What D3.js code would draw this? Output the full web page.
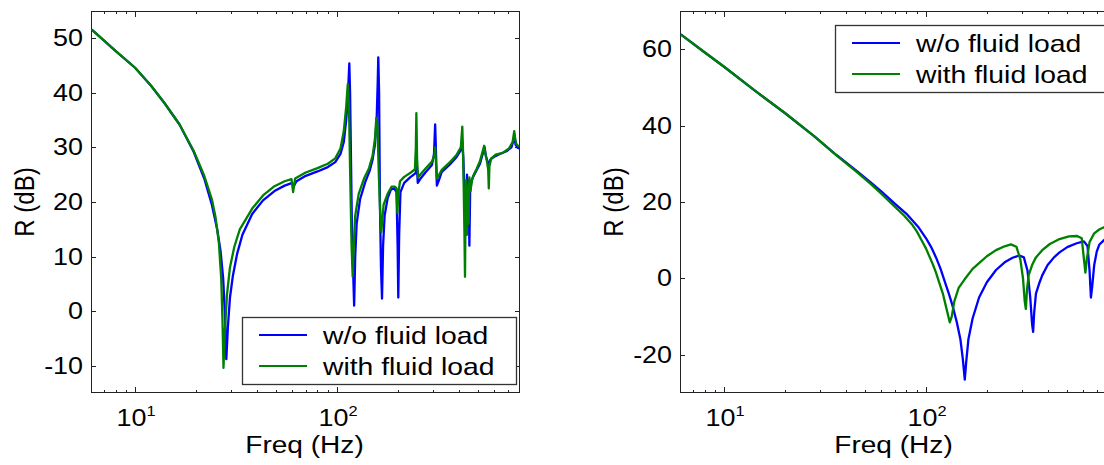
<!DOCTYPE html>
<html><head><meta charset="utf-8">
<script src="https://cdn.jsdelivr.net/npm/d3@7"></script>
<style>
body{margin:0;background:#fff}
svg text{font-family:"Liberation Sans",Arial,sans-serif;fill:#000}
</style>
</head><body>
<svg id="c" width="1104" height="465"></svg>
<script>
// ---------- DATA ----------
const seriesNames = ["w/o fluid load", "with fluid load"];
const seriesColors = ["#0000ff", "#008000"];
const xMajorTicks = [10, 100];
const xMinorTicks = [7, 8, 9, 20, 30, 40, 50, 60, 70, 80, 90, 200, 300, 400, 500, 600, 700, 800];
const yTicksLeft = [-10, 0, 10, 20, 30, 40, 50];
const yTicksRight = [-20, 0, 20, 40, 60];
const xLabel = "Freq (Hz)";
const yLabel = "R (dB)";

// Left panel, without fluid load (freq Hz, R dB)
const leftBlueFreq = [6.1,7,8,10,12,14,16.6,19.5,22,24,25.5,26.5,27.3,27.8,28.3,28.8,29.5,30.5,32,34,38,43,49,55,60,61,63,70,80,90,98,104,108,111,113,115,116,117,118.5,121.5,123,125,130,138,145,150,154,157,159,160,161.5,163,165,167,169,172,178,185,192,197,199.5,201,203,206,215,230,245,248,251,258,275,295,302,306,309,312,318,330,360,390,410,417,422,428,432,436,440,444,448,452,456,462,470,490,510,530,538,545,555,565,575,600,640,690,730,750,758,765,780,798];
const leftBlueVal  = [51.6,49.6,47.7,44.6,41.3,38.1,34.2,29.2,24.3,19.5,15,11,6,0,-8.8,-3,2.5,6.5,10.5,14,17.8,20.3,22,23,23.5,22.9,23.8,24.8,25.6,26.4,27.3,28.8,31,35,39,45.4,40,30,15,1,10,16,20.5,23.7,25.7,27.8,30.5,35,42,46.5,40,20,8,2.3,12,17.5,20.7,22.3,22.5,21.8,12,2.5,14,21.8,23.5,24.5,25.3,27,23.5,24.2,25.5,26.8,28.8,34.2,29,23,23.8,25.5,26.8,28.2,29.5,31,28,21,22,18,25,19,24,12,22,23.5,24.5,25.8,27,29.2,30,28.5,27.5,27,27.8,28.3,28.8,29.3,30,31.5,32.2,30.5,30,29.8];
// Left panel, with fluid load
const leftGreenFreq = [6.1,7,8,10,12,14,16.6,19.5,22,24,25,26,26.7,27.1,27.4,27.8,28.5,29.5,31,33,38,43,49,55,59.5,60.6,62,70,80,90,98,104,108,111,113,114.5,116,118,119.5,121,123,128,136,144,150,154,156.5,158.5,161,163.5,165.5,167,170,178,186,193,197,199,201,205,215,230,243,245.5,247,249,252,258,275,295,303,306,309,312,318,330,360,390,410,417,420,424,427,430,433,436,440,444,448,452,458,465,475,490,510,528,535,542,552,560,564,568,580,610,660,710,740,754,762,775,798];
const leftGreenVal  = [51.6,49.6,47.7,44.6,41.3,38.1,34.2,29.4,24.8,20.5,17.3,12.5,6,-2,-10.4,-4,3,8,11.8,15,18.8,21.2,22.9,23.8,24.2,21.8,24.3,25.4,26.2,27,28,29.8,33,37.5,41.6,38,26,12,6.3,12,17.5,21.5,24.3,26.2,28.5,31.5,35.4,34,25,18,14.5,16,19.5,21.5,22.8,22.8,22.5,18,21.5,23.8,24.6,25.3,26,30,36.3,28,24.5,25,26.2,27.4,28.5,30,27,24.3,24.8,25.9,27.2,28.6,30,33.8,30,22,15,6.3,20,24,14,23,16,24.5,22,24,25,26,27.5,29.5,30.3,29,27.5,26,22.5,26.5,28,28.7,29,29.8,31,33,31.5,30.5,30.1];

// Right panel, without fluid load
const rightBlueFreq = [6.1,8,10,14,20,28,36,45,53,60,70,80,92,100,106,112,118,125,130,135,142,148,152,155.5,158,162,170,183,200,222,245,268,290,305,318,328,335,339,343,350,365,376,400,430,458,500,557,605,630,645,655,665,680,700,720,760,805];
const rightBlueVal  = [63.9,59.2,55.4,49.4,43.3,37.2,32.3,28.3,25.2,22.8,19.6,16.9,13.3,10.5,8.2,5.5,2.5,-1.5,-4.2,-7,-11.5,-16,-21,-26.5,-22,-16,-10.5,-5,-1,2.2,4.2,5.4,6,5.5,2,-5,-12,-14,-9,-4,-1,0.8,3.5,5.5,6.8,8.2,9.2,9.7,8.5,2,-5,-2,3.5,7,8.8,10,11];
// Right panel, with fluid load
const rightGreenFreq = [6.1,8,10,14,20,28,36,45,53,60,70,78,85,90,95,100,104,108,112,116,121,127,131,134,138,145,155,170,183,200,222,245,263,280,293,302,308,312,316,322,335,350,376,410,458,510,560,590,605,615,625,645,680,720,805];
const rightGreenVal  = [63.9,59.2,55.4,49.4,43.3,37.2,32.2,28,24.8,22.2,18.8,16.4,14.2,12.3,10,7.8,5.7,3.7,1.5,-1,-3.9,-8.5,-11.5,-10,-6,-2.5,-0.3,2.5,4,5.8,7.4,8.4,8.9,8.3,5,0,-6,-8,-3,0.8,3.5,5.5,7.4,9,10.3,11,11.1,10.5,5,1.5,5,9.5,11.8,12.8,14];

// ---------- DRAW ----------
const svg = d3.select("#c");
const PW = 429, PT = 11, PB = 393;
const SX = 1.17; // horizontal stretch of the original lettering

function label(g, x, y, s, size, anchor, extra, sx) {
  return g.append("text")
    .attr("transform", `translate(${x},${y}) scale(${sx || SX},1)` + (extra || ""))
    .attr("text-anchor", anchor).attr("font-size", size).text(s);
}

function panel(cfg) {
  const g = svg.append("g");
  const x = d3.scaleLog().domain([6.05, 805]).range([cfg.x0, cfg.x0 + PW]);
  const y = d3.scaleLinear().domain(cfg.yDomain).range([PB, PT]);
  const clipId = "clip" + cfg.x0;
  svg.append("clipPath").attr("id", clipId).append("rect")
    .attr("x", cfg.x0).attr("y", PT).attr("width", PW).attr("height", PB - PT);

  g.append("rect").attr("x", cfg.x0 + 0.5).attr("y", PT + 0.5)
    .attr("width", PW - 1).attr("height", PB - PT - 1)
    .attr("fill", "none").attr("stroke", "#222").attr("stroke-width", 1);

  cfg.yTicks.forEach(t => {
    const yy = Math.round(y(t)) + 0.5;
    g.append("line").attr("x1", cfg.x0).attr("x2", cfg.x0 + 5).attr("y1", yy).attr("y2", yy).attr("stroke", "#222");
    g.append("line").attr("x1", cfg.x0 + PW - 5).attr("x2", cfg.x0 + PW).attr("y1", yy).attr("y2", yy).attr("stroke", "#222");
    label(g, cfg.x0 - 8, y(t) + 8, t, 23, "end");
  });
  const xt = xMajorTicks.map(v => [v, 6]).concat(xMinorTicks.map(v => [v, 3]));
  xt.forEach(([v, len]) => {
    const xx = Math.round(x(v)) + 0.5;
    g.append("line").attr("x1", xx).attr("x2", xx).attr("y1", PB).attr("y2", PB - len).attr("stroke", "#222");
    g.append("line").attr("x1", xx).attr("x2", xx).attr("y1", PT).attr("y2", PT + len).attr("stroke", "#222");
  });
  xMajorTicks.forEach(v => {
    const t = label(g, x(v) + 1, 426, "", 23, "middle");
    t.append("tspan").text("10");
    t.append("tspan").attr("dy", -10).attr("font-size", 14).text(Math.round(Math.log10(v)));
  });
  label(g, cfg.x0 + PW / 2 - 1, 453, xLabel, 24, "middle");
  label(g, cfg.x0 - 57, (PT + PB) / 2, yLabel, 24, "middle", " rotate(-90)");

  const line = d3.line().x(d => x(d[0])).y(d => y(d[1]));
  const lg = g.append("g").attr("clip-path", `url(#${clipId})`);
  cfg.series.forEach((s, i) => {
    const pts = s.f.map((f, k) => [f, s.v[k]]);
    lg.append("path").attr("d", line(pts)).attr("fill", "none")
      .attr("stroke", seriesColors[i]).attr("stroke-width", 2.3).attr("stroke-linejoin", "round");
  });

  const L = cfg.legend;
  g.append("rect").attr("x", L.x + 0.5).attr("y", L.y + 0.5).attr("width", 274).attr("height", 67)
    .attr("fill", "#fff").attr("stroke", "#333").attr("stroke-width", 1.3);
  seriesNames.forEach((n, i) => {
    const ly = L.y + 18 + i * 31;
    g.append("line").attr("x1", L.x + 17).attr("x2", L.x + 65).attr("y1", ly).attr("y2", ly)
      .attr("stroke", seriesColors[i]).attr("stroke-width", 2);
    label(g, L.x + 81, ly + 9, n, 24, "start", "", 1.18);
  });
}

panel({
  x0: 91, yDomain: [-15, 55], yTicks: yTicksLeft,
  series: [{f: leftBlueFreq, v: leftBlueVal}, {f: leftGreenFreq, v: leftGreenVal}],
  legend: {x: 242, y: 317}
});
panel({
  x0: 680, yDomain: [-30, 70], yTicks: yTicksRight,
  series: [{f: rightBlueFreq, v: rightBlueVal}, {f: rightGreenFreq, v: rightGreenVal}],
  legend: {x: 835, y: 25}
});
</script>
</body></html>
